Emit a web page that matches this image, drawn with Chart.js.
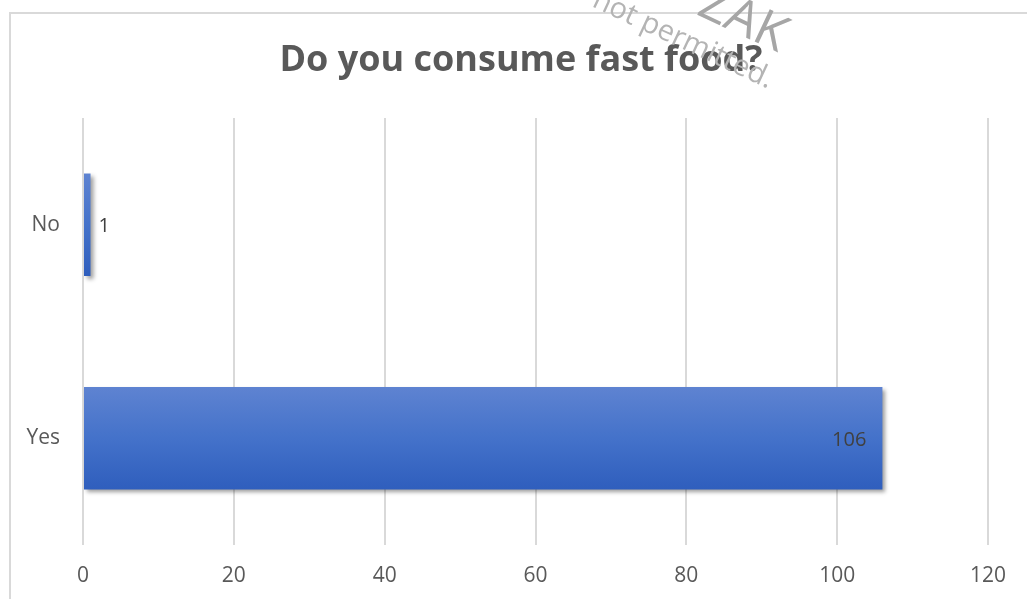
<!DOCTYPE html>
<html>
<head>
<meta charset="utf-8">
<script src="https://cdn.jsdelivr.net/npm/chart.js@4/dist/chart.umd.min.js"></script>
<style>
  html,body{margin:0;padding:0;background:#fff;overflow:hidden;width:1027px;height:599px;}
  #frame{position:absolute;left:9px;top:12px;width:1040px;height:620px;border:2px solid #d9d9d9;box-sizing:border-box;}
  #c{position:absolute;left:0;top:0;}
  .wm{position:absolute;font-family:"Open Sans",sans-serif;color:#b4b4b4;white-space:nowrap;transform-origin:0 0;transform:rotate(25deg);pointer-events:none;}
</style>
</head>
<body>
<div id="frame"></div>
<canvas id="c" width="1027" height="599"></canvas>
<div class="wm" style="left:718px;top:-34px;font-size:50px;color:#a6a6a6;">ZAK</div>
<div class="wm" style="left:604px;top:-22px;font-size:29px;">not permitted.</div>
<script>
// Do you consume fast food? - horizontal bar
const categories = ['No', 'Yes'];
const responses = [1, 106];
const xMax = 120, xStep = 20;
const chartTitle = 'Do you consume fast food?';

const FONT = '"Open Sans", sans-serif';
const TXT = '#595959';

function barFill(c){
  const chart=c.chart, y=chart.scales && chart.scales.y;
  if(!y || !chart.chartArea) return '#4472C4';
  const mid=y.getPixelForValue(c.dataIndex);
  const band=Math.abs(y.getPixelForValue(1)-y.getPixelForValue(0));
  const h=band*0.48;
  const g=chart.ctx.createLinearGradient(0,mid-h/2,0,mid+h/2);
  g.addColorStop(0,'#5E83D1'); g.addColorStop(0.5,'#4472CA'); g.addColorStop(1,'#2F5EBD');
  return g;
}

const shadow = {
  id:'shadow',
  beforeDatasetsDraw(chart){ const ctx=chart.ctx; ctx.save(); ctx.shadowColor='rgba(0,0,0,0.38)'; ctx.shadowBlur=4; ctx.shadowOffsetX=3; ctx.shadowOffsetY=3; },
  afterDatasetsDraw(chart){ chart.ctx.restore(); }
};

const labels = {
  id:'labels',
  afterDatasetsDraw(chart){
    const ctx=chart.ctx; const meta=chart.getDatasetMeta(0);
    ctx.save(); ctx.font='20px '+FONT; ctx.fillStyle='#404040'; ctx.textBaseline='middle';
    meta.data.forEach((bar,i)=>{
      const v=chart.data.datasets[0].data[i];
      if(v<10){ ctx.textAlign='left'; ctx.fillText(String(v),bar.x+8,bar.y+2); }
      else { ctx.textAlign='right'; ctx.fillText(String(v),bar.x-16,bar.y+2); }
    });
    ctx.restore();
  }
};

const title = {
  id:'title2',
  afterDraw(chart){
    const ctx=chart.ctx; ctx.save();
    ctx.font='bold 36px '+FONT; ctx.fillStyle=TXT; ctx.textAlign='center'; ctx.textBaseline='middle';
    ctx.fillText(chartTitle,521,61); ctx.restore();
  }
};

new Chart(document.getElementById('c'),{
  type:'bar',
  data:{labels:categories,datasets:[{data:responses,backgroundColor:barFill,borderWidth:0,categoryPercentage:1,barPercentage:0.48}]},
  options:{
    indexAxis:'y', responsive:false, animation:false, devicePixelRatio:1,
    layout:{padding:{top:118,right:39,bottom:0,left:0}},
    plugins:{legend:{display:false},tooltip:{enabled:false},title:{display:false}},
    scales:{
      x:{min:0,max:xMax,
        ticks:{stepSize:xStep,color:TXT,font:{family:FONT,size:21},padding:18},
        grid:{color:'#d9d9d9',lineWidth:2,drawTicks:false},
        border:{display:false},
        afterFit(s){ s.height=54; }
      },
      y:{
        ticks:{color:TXT,font:{family:FONT,size:21},padding:23},
        grid:{display:false,drawTicks:false},
        border:{display:false},
        afterFit(s){ s.width=83; }
      }
    }
  },
  plugins:[shadow,labels,title]
});
</script>
</body>
</html>
